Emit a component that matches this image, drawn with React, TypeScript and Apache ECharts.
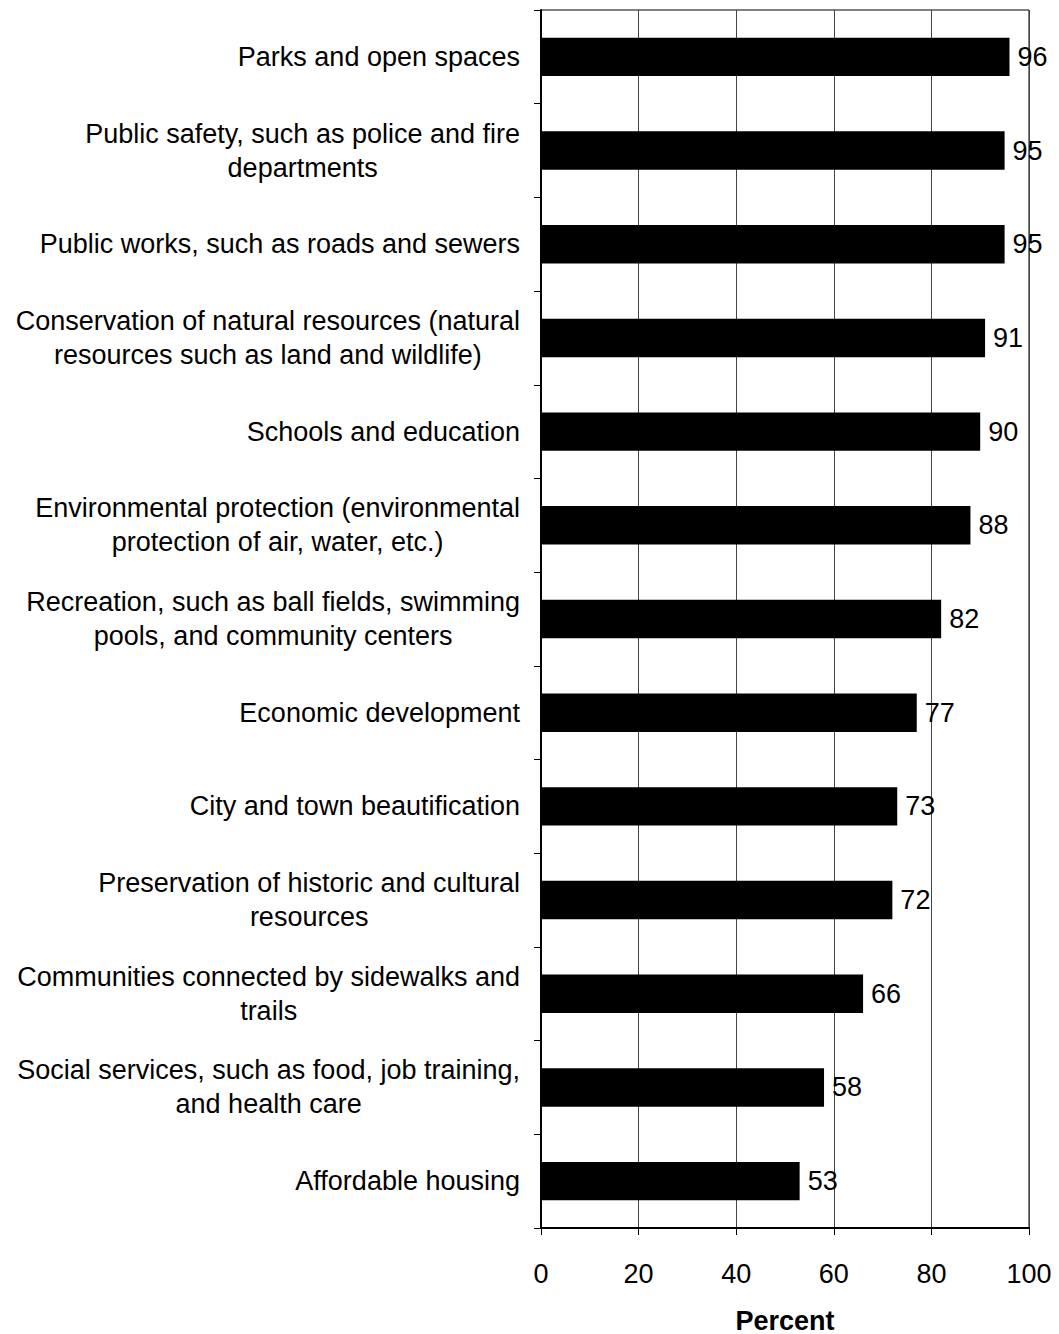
import React, { useEffect, useRef } from "react";
import * as echarts from "echarts";

const categories: string[] = [
  "Parks and open spaces",
  "Public safety, such as police and fire\ndepartments",
  "Public works, such as roads and sewers",
  "Conservation of natural resources (natural\nresources such as land and wildlife)",
  "Schools and education",
  "Environmental protection (environmental\nprotection of air, water, etc.)",
  "Recreation, such as ball fields, swimming\npools, and community centers",
  "Economic development",
  "City and town beautification",
  "Preservation of historic and cultural\nresources",
  "Communities connected by sidewalks and\ntrails",
  "Social services, such as food, job training,\nand health care",
  "Affordable housing",
];

const values: number[] = [96, 95, 95, 91, 90, 88, 82, 77, 73, 72, 66, 58, 53];

const xTicks: number[] = [0, 20, 40, 60, 80, 100];

const FONT = "'Liberation Sans', Arial, sans-serif";
const FS = 27;

export default function App() {
  const ref = useRef<HTMLDivElement>(null);
  useEffect(() => {
    if (!ref.current) return;
    const chart = echarts.init(ref.current, undefined, { renderer: "svg" });
    chart.setOption({
      animation: false,
      backgroundColor: "#fff",
      textStyle: { fontFamily: FONT },
      grid: {
        left: 541,
        top: 10,
        width: 488,
        height: 1218,
        containLabel: false,
        outerBoundsMode: "none",
        show: true,
        borderColor: "#000",
        borderWidth: 1,
      },
      xAxis: {
        type: "value",
        min: xTicks[0],
        max: xTicks[xTicks.length - 1],
        interval: 20,
        name: "Percent",
        nameLocation: "middle",
        nameGap: 79,
        nameTextStyle: { fontSize: FS, fontWeight: "bold", color: "#000", fontFamily: FONT },
        axisLine: { show: true, lineStyle: { color: "#000", width: 2 } },
        axisTick: { show: true, length: 7, lineStyle: { color: "#000", width: 1 } },
        axisLabel: { fontSize: FS, color: "#000", margin: 32, fontFamily: FONT },
        splitLine: { show: true, lineStyle: { color: "#444", width: 1 } },
      },
      yAxis: {
        type: "category",
        inverse: true,
        data: categories,
        axisLine: { show: true, lineStyle: { color: "#000", width: 2 } },
        axisTick: { show: true, length: 7, alignWithLabel: false, lineStyle: { color: "#000", width: 1 } },
        axisLabel: {
          margin: 21,
          interval: 0,
          align: "right",
          formatter: (v: string) =>
            v
              .split("\n")
              .map((l) => `{c|${l}}`)
              .join("\n"),
          rich: {
            c: {
              align: "center",
              fontSize: FS,
              lineHeight: 34,
              color: "#000",
              fontFamily: FONT,
            },
          },
        },
        splitLine: { show: false },
      },
      series: [
        {
          type: "bar",
          data: values,
          barWidth: "41%",
          itemStyle: { color: "#000" },
          label: {
            show: true,
            position: "right",
            distance: 8,
            fontSize: FS,
            color: "#000",
            fontFamily: FONT,
          },
        },
      ],
    });
    return () => chart.dispose();
  }, []);
  return (
    <div
      ref={ref}
      style={{ position: "absolute", left: 0, top: 0, width: 1059, height: 1334 }}
    />
  );
}
